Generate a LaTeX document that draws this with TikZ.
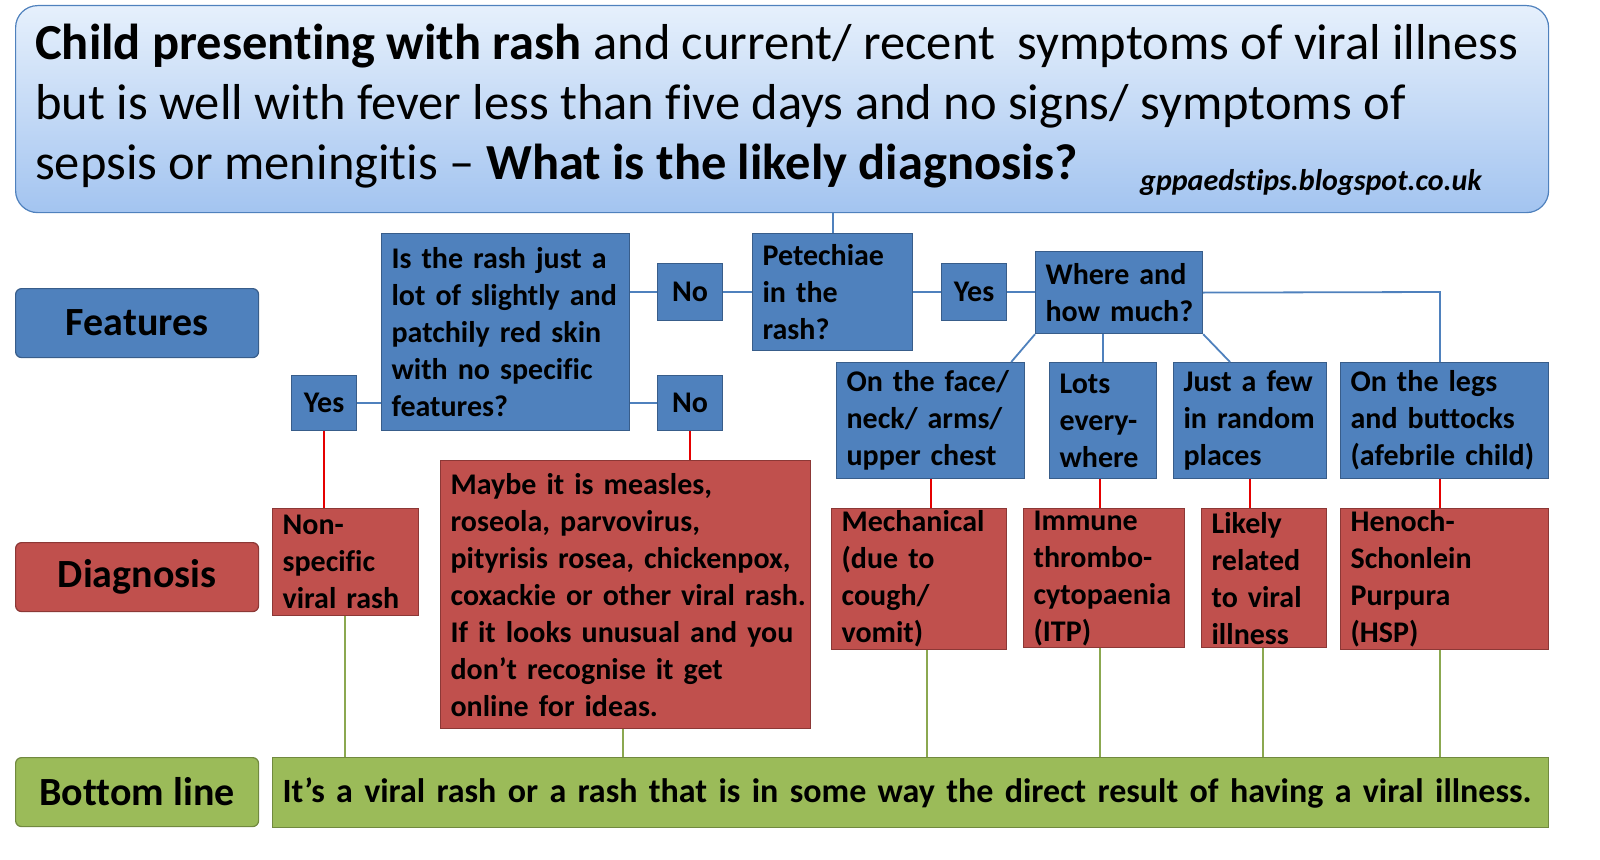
\documentclass[tikz,border=0pt]{standalone}
\usepackage{fontspec}
\setmainfont[Ligatures=NoCommon]{Carlito}
\newcommand\Ln[1]{\mbox{#1}}
\begin{document}
\begin{tikzpicture}[x=1pt,y=-1pt,
 base/.style={anchor=north west,draw,line width=1.2pt,align=left,inner xsep=10pt,inner ysep=2pt,font=\fontsize{30}{37}\selectfont\bfseries,text=black},
 bl/.style={base,fill=blueF,draw=blueD},
 rd/.style={base,fill=redF,draw=redD},
 gr/.style={base,fill=greenF,draw=greenD},
 lab/.style={anchor=north west,draw,line width=1.2pt,rounded corners=6pt,font=\fontsize{40}{44}\selectfont\bfseries,minimum width=243pt,minimum height=69pt},
 bc/.style={blueF,line width=1.8pt},
 rc/.style={red!90!black,line width=1.8pt},
 gc/.style={greenF!90!black,line width=2.5pt}]
\definecolor{blueF}{HTML}{4F81BD}\definecolor{blueD}{HTML}{385D8A}
\definecolor{redF}{HTML}{C0504D}\definecolor{redD}{HTML}{8C3836}
\definecolor{greenF}{HTML}{9BBB59}\definecolor{greenD}{HTML}{71893F}
\definecolor{tTop}{HTML}{E6F0FC}\definecolor{tBot}{HTML}{A3C4F0}
\useasboundingbox (0,0) rectangle (1600,859);
\node[anchor=north west,draw=blueF,line width=1.2pt,rounded corners=22pt,top color=tTop,bottom color=tBot,minimum width=1533pt,minimum height=207pt] (title) at (15,5) {};
\node[anchor=north west,align=left,inner sep=0pt,font=\fontsize{50.5}{60}\selectfont] (tt) at (35,24) {\textbf{Child presenting with rash} and current/ recent\ \ symptoms of viral illness\\but is well with fever less than five days and no signs/ symptoms of\\sepsis or meningitis -- \textbf{What is the likely diagnosis?}};
\node[anchor=west,font=\fontsize{30}{34}\selectfont\bfseries\itshape,inner sep=0pt] (url) at (1140,183) {gppaedstips.blogspot.co.uk};
\node[lab,fill=blueF,draw=blueD] (feat) at (15,288) {Features};
\node[lab,fill=redF,draw=redD] (diag) at (15,542) {Diagnosis};
\node[lab,fill=greenF,draw=greenD,rounded corners=6pt] (botl) at (15,757) {Bottom line};
\node[gr,text width=1256pt,minimum height=70pt,font=\fontsize{34}{40}\selectfont\bfseries,inner xsep=10pt] (bot) at (272,757) {\Ln{It’s a viral rash or a rash that is in some way the direct result of having a viral illness.}};
% blue
\node[bl,text width=228pt,minimum height=197pt] (q) at (381,233) {\Ln{Is the rash just a}\\\Ln{lot of slightly and}\\\Ln{patchily red skin}\\\Ln{with no specific}\\\Ln{features?}};
\node[bl,minimum width=65pt,minimum height=57pt,align=center,inner xsep=2pt] (no1) at (657,263) {No};
\node[bl,minimum width=65pt,minimum height=55pt,align=center,inner xsep=2pt] (no2) at (657,375) {No};
\node[bl,minimum width=65pt,minimum height=55pt,align=center,inner xsep=2pt] (yes1) at (291,375) {Yes};
\node[bl,text width=140pt,minimum height=117pt] (pet) at (752,233) {\Ln{Petechiae}\\\Ln{in the}\\\Ln{rash?}};
\node[bl,minimum width=65pt,minimum height=57pt,align=center,inner xsep=2pt] (yes2) at (941,263) {Yes};
\node[bl,text width=147pt,minimum height=82pt] (where) at (1035,251) {\Ln{Where and}\\\Ln{how much?}};
\node[bl,text width=168pt,minimum height=116pt] (face) at (836,362) {\Ln{On the face/}\\\Ln{neck/ arms/}\\\Ln{upper chest}};
\node[bl,text width=87pt,minimum height=116pt] (lots) at (1049,362) {\Ln{Lots}\\\Ln{every-}\\\Ln{where}};
\node[bl,text width=133pt,minimum height=116pt] (just) at (1173,362) {\Ln{Just a few}\\\Ln{in random}\\\Ln{places}};
\node[bl,text width=188pt,minimum height=116pt] (legs) at (1340,362) {\Ln{On the legs}\\\Ln{and buttocks}\\\Ln{(afebrile child)}};
% red
\node[rd,text width=126pt,minimum height=107pt] (nsv) at (272,508) {\Ln{Non-}\\\Ln{specific}\\\Ln{viral rash}};
\node[rd,text width=350pt,minimum height=268pt] (maybe) at (440,460) {\Ln{Maybe it is measles,}\\\Ln{roseola, parvovirus,}\\\Ln{pityrisis rosea, chickenpox,}\\\Ln{coxackie or other viral rash.}\\\Ln{If it looks unusual and you}\\\Ln{don’t recognise it get}\\\Ln{online for ideas.}};
\node[rd,text width=155pt,minimum height=139pt] (mech) at (831,508) {\Ln{Mechanical}\\\Ln{(due to}\\\Ln{cough/}\\\Ln{vomit)}};
\node[rd,text width=141pt,minimum height=139pt] (itp) at (1023,508) {\Ln{Immune}\\\Ln{thrombo-}\\\Ln{cytopaenia}\\\Ln{(ITP)}};
\node[rd,text width=105pt,minimum height=139pt] (lik) at (1201,508) {\Ln{Likely}\\\Ln{related}\\\Ln{to viral}\\\Ln{illness}};
\node[rd,text width=188pt,minimum height=141pt] (hsp) at (1340,508) {\Ln{Henoch-}\\\Ln{Schonlein}\\\Ln{Purpura}\\\Ln{(HSP)}};
% blue connectors
\draw[bc] (title.south -| pet.north) -- (pet.north);
\draw[bc] (q.east |- no1.west) -- (no1.west);
\draw[bc] (no1.east) -- (pet.west |- no1.east);
\draw[bc] (q.east |- no2.west) -- (no2.west);
\draw[bc] (yes1.east) -- (q.west |- yes1.east);
\draw[bc] (pet.east |- yes2.west) -- (yes2.west);
\draw[bc] (yes2.east) -- (where.west |- yes2.east);
\draw[bc] (where.south west) -- ([xshift=-14pt]face.north east);
\draw[bc] (where.south -| lots.north) -- (lots.north);
\draw[bc] (where.south east) -- ([xshift=57pt]just.north west);
\coordinate (cr) at (1440,292);
\draw[bc] (where.east) -- (cr) -- (cr |- legs.north);
% red connectors
\draw[rc] (yes1.south) -- (yes1.south |- nsv.north);
\draw[rc] (no2.south) -- (no2.south |- maybe.north);
\draw[rc] (mech.north -| 931,0) -- (face.south -| 931,0);
\draw[rc] (itp.north -| 1100,0) -- (lots.south -| 1100,0);
\draw[rc] (lik.north -| 1250,0) -- (just.south -| 1250,0);
\draw[rc] (hsp.north -| 1440,0) -- (legs.south -| 1440,0);
% green connectors
\foreach \n/\x in {nsv/345,maybe/623,mech/927,itp/1100,lik/1263,hsp/1440}
  \draw[gc] (\n.south -| \x,0) -- (bot.north -| \x,0);
\end{tikzpicture}
\end{document}
